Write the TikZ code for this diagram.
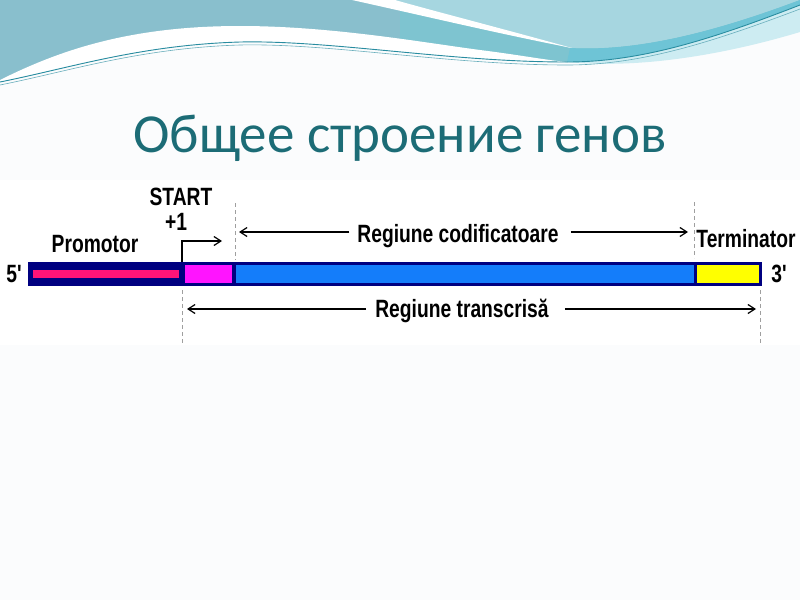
\documentclass[tikz,border=0pt]{standalone}
\usepackage{fontspec}
\usetikzlibrary{arrows.meta}
\newfontfamily\titlefont{Carlito}
\newfontfamily\labfont{Liberation Sans}[FakeStretch=0.77]
\definecolor{topblue}{RGB}{137,191,205}
\definecolor{midteal}{RGB}{126,196,208}
\definecolor{lightcyan}{RGB}{166,214,224}
\definecolor{satcyan}{RGB}{110,196,214}
\definecolor{palecyan}{RGB}{205,236,242}
\definecolor{waveline}{RGB}{40,140,160}
\definecolor{titleteal}{RGB}{28,108,118}
\definecolor{navy}{RGB}{0,0,128}
\definecolor{pinkseg}{RGB}{255,20,120}
\definecolor{magseg}{RGB}{255,20,255}
\definecolor{blueseg}{RGB}{20,125,250}
\definecolor{yellowseg}{RGB}{255,255,0}
\definecolor{offwhite}{RGB}{251,252,253}
\tikzset{
  lab/.style={font=\labfont\bfseries\fontsize{25}{25}\selectfont, inner sep=0pt, anchor=base},
  guide/.style={gray!75, line width=0.8pt, dash pattern=on 4pt off 3pt},
  darrow/.style={line width=1.2pt, -{Straight Barb[length=7pt,width=9pt]}},
}
\begin{document}
\begin{tikzpicture}[x=1pt,y=-1pt]
\useasboundingbox (0,0) rectangle (800,600);
% background
\fill[offwhite] (0,0) rectangle (800,600);
\fill[white] (0,180) rectangle (800,345);
% top wave decoration
\fill[topblue] (0,0) -- (800,0) -- (800,5) .. controls (710,40) and (640,62) .. (567,62)
  .. controls (450,62) and (330,40) .. (240,42) .. controls (140,45) and (70,68) .. (0,82) -- cycle;
\fill[midteal] (360,0) -- (800,0) -- (800,5) .. controls (710,40) and (640,62) .. (567,62)
  .. controls (500,62) and (450,55) .. (400,48) -- (400,0) -- cycle;
\fill[lightcyan] (360,0) -- (800,0) .. controls (720,30) and (640,52) .. (570,48)
  .. controls (500,30) and (420,12) .. (360,0) -- cycle;
\fill[satcyan] (570,48) .. controls (640,52) and (720,30) .. (800,0) -- (800,5)
  .. controls (710,40) and (640,62) .. (567,62) -- cycle;
\fill[white] (352,0) .. controls (420,15) and (500,34) .. (572,48)
  .. controls (500,28) and (430,10) .. (395,0) -- cycle;
\fill[palecyan] (800,5) .. controls (710,40) and (640,62) .. (567,62)
  .. controls (650,70) and (740,50) .. (800,32) -- cycle;
\fill[white] (0,80) .. controls (60,50) and (130,26) .. (240,26) .. controls (330,26) and (420,42) .. (480,50)
  .. controls (520,55) and (545,60) .. (567,62)
  .. controls (450,62) and (330,40) .. (240,42) .. controls (140,45) and (70,68) .. (0,82) -- cycle;
\draw[waveline, line width=0.9pt] (0,82) .. controls (70,68) and (140,45) .. (240,42)
  .. controls (330,40) and (450,62) .. (567,62) .. controls (640,62) and (710,40) .. (800,5);
\draw[waveline!70, line width=0.6pt] (0,85) .. controls (70,71) and (140,48) .. (240,45)
  .. controls (330,43) and (450,65) .. (567,65) .. controls (640,65) and (710,43) .. (800,9);
% title
\node[font=\titlefont\fontsize{55}{55}\selectfont, text=titleteal, inner sep=0pt, anchor=base] (title) at (400,152) {Общее строение генов};
% gene bar
\node[draw=none, fill=navy, minimum width=734pt, minimum height=24pt, inner sep=0pt] (bar) at (395,274) {};
\fill[pinkseg] (33,270) rectangle (179,278);
\fill[magseg] (185,265) rectangle (232,283);
\fill[blueseg] (236,265) rectangle (694,283);
\fill[yellowseg] (697,265) rectangle (759,283);
% guides
\coordinate (g1t) at (182,290); \coordinate (g1b) at (182,345);
\coordinate (g2t) at (235,203); \coordinate (g2b) at (235,260);
\coordinate (g3t) at (694,202); \coordinate (g3b) at (694,258);
\coordinate (g4t) at (760,290); \coordinate (g4b) at (760,345);
\draw[guide] (g1t) -- (g1b);
\draw[guide] (g2t) -- (g2b);
\draw[guide] (g3t) -- (g3b);
\draw[guide] (g4t) -- (g4b);
% labels
\node[lab] (prom) at (95,252) {Promotor};
\node[lab] (start) at (181,205) {START};
\node[lab] (plus) at (176,230) {+1};
\node[lab] (cod) at (458,242) {Regiune codificatoare};
\node[lab] (trans) at (462,317) {Regiune transcris\u{a}};
\node[lab] (term) at (746,247) {Terminator};
\node[lab] (five) at (14,282) {5'};
\node[lab] (three) at (779,282) {3'};
% arrows
\coordinate (s0) at (182,262); \coordinate (s1) at (182,241); \coordinate (s2) at (222,241);
\draw[darrow] (s0) -- (s1) -- (s2);
\coordinate (c1) at (239,232); \coordinate (c2) at (688,232);
\draw[darrow] (cod.west |- c1) ++(-8,0) -- (c1);
\draw[darrow] (cod.east |- c2) ++(12,0) -- (c2);
\coordinate (t1) at (187,309); \coordinate (t2) at (756,309);
\draw[darrow] (trans.west |- t1) ++(-9,0) -- (t1);
\draw[darrow] (trans.east |- t2) ++(16,0) -- (t2);
\end{tikzpicture}
\end{document}
